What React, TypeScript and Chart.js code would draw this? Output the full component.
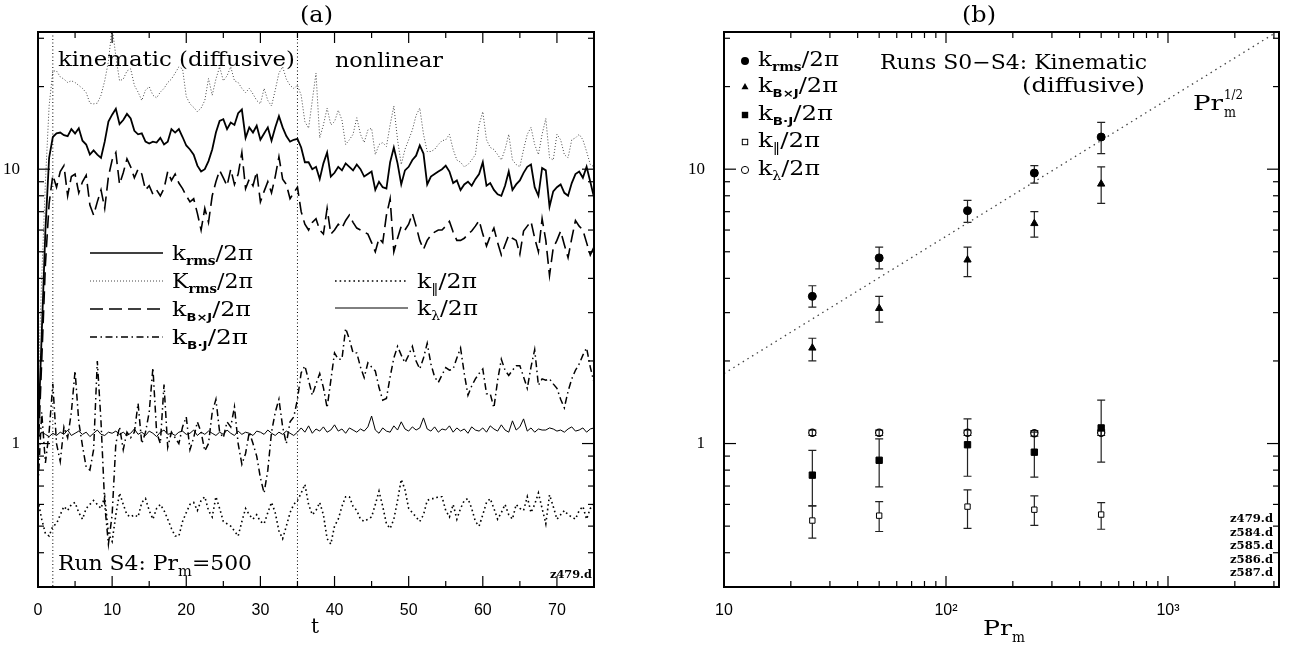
import React, { useEffect, useRef } from "react";
import { Chart, registerables } from "chart.js";

Chart.register(...registerables);

// ---------------- Panel (a): time series ----------------
const tSteps: number[] = Array.from({ length: 151 }, (_, i) => i * 0.5);
const phaseBoundaries = [2, 35];
const xTicksA = [0, 10, 20, 30, 40, 50, 60, 70];
const xMinorA = [5, 15, 25, 35, 45, 55, 65];
const yTicks = [1, 10];
const yMinor = [0.4, 0.5, 0.6, 0.7, 0.8, 0.9, 2, 3, 4, 5, 6, 7, 8, 9, 20, 30];

const kRms = [
  1.05, 2.5, 6, 11, 13.1, 13.5, 13.6, 13.3, 13.2, 14.0,
  13.5, 14.1, 12.7, 12.3, 11.3, 11.7, 11.3, 11.0, 12.6, 14.9,
  15.8, 16.6, 14.6, 15.1, 15.9, 15.3, 13.8, 13.4, 13.5, 12.6,
  12.4, 12.6, 12.5, 13.0, 12.3, 12.6, 14.0, 13.6, 14.0, 13.1,
  12.2, 11.8, 11.3, 10.3, 9.8, 10.0, 10.7, 11.8, 13.6, 15.0,
  15.2, 14.0, 14.8, 14.5, 16.0, 16.5, 13.0, 14.2, 13.6, 14.4,
  12.8, 13.5, 14.2, 12.7, 14.2, 15.6, 14.2, 13.2, 12.6, 12.8,
  12.9, 12.0, 10.6, 10.6, 10.0, 10.2, 9.2, 10.5, 11.5, 9.4,
  9.7, 10.2, 9.9, 10.5, 10.2, 9.9, 10.4, 10.0, 9.4, 9.6,
  9.8, 8.4, 9.0, 8.6, 8.5, 10.6, 12.0, 10.5, 8.8, 9.9,
  10.2, 10.8, 11.2, 12.2, 11.4, 8.8, 9.4, 9.6, 9.8, 10.0,
  10.3, 9.8, 8.9, 9.1, 8.4, 8.8, 9.0, 8.7, 9.2, 9.6,
  10.6, 8.7, 8.9, 8.4, 8.1, 8.0, 8.7, 9.8, 8.4, 8.8,
  9.1, 9.7, 10.2, 10.4, 8.6, 8.0, 10.1, 9.9, 7.3, 8.3,
  8.6, 8.8, 8.2, 8.0, 8.9, 9.6, 9.8, 9.3, 10.2, 9.0,
  7.9,
];

const bigKRms = [
  1.6, 4, 9, 17, 22.8, 22.8, 21.7, 21.3, 20.7, 21.0,
  20.7, 20.2, 19.7, 19.0, 17.4, 17.3, 17.4, 18.6, 21.0, 24.7,
  33, 25.8, 21.0, 21.3, 22.8, 23.2, 20.2, 19.1, 17.8, 19.4,
  20.0, 18.6, 18.2, 19.1, 19.7, 20.7, 21.3, 22.4, 23.6, 23.2,
  18.4, 17.3, 16.8, 16.2, 16.7, 17.8, 21.4, 18.6, 21.3, 23.6,
  21.0, 21.9, 23.6, 21.0, 20.7, 19.7, 19.0, 19.7, 18.8, 17.8,
  17.3, 19.7, 17.8, 17.0, 19.4, 22.4, 23.6, 21.3, 20.2, 19.7,
  20.2, 18.6, 14.9, 14.1, 17.8, 22.4, 13.0, 14.5, 16.7, 14.5,
  14.9, 16.4, 15.1, 12.3, 12.8, 13.4, 15.4, 13.4, 12.5, 13.9,
  14.1, 11.3, 12.3, 12.5, 12.1, 14.5, 17.0, 12.8, 10.4, 11.8,
  12.8, 13.9, 15.7, 16.7, 13.4, 11.6, 11.6, 11.8, 12.3, 12.7,
  12.8, 13.4, 11.8, 10.8, 10.6, 10.2, 10.4, 10.8, 11.3, 14.5,
  16.2, 12.8, 12.0, 11.8, 11.3, 10.8, 11.8, 13.4, 10.8, 10.4,
  10.2, 11.8, 13.4, 14.2, 12.3, 11.3, 13.4, 15.3, 11.0, 10.8,
  13.4, 12.8, 11.3, 11.0, 12.8, 13.0, 13.4, 12.8, 11.6, 10.4,
  10.2,
];

const kBxJ = [
  0.9, 2.0, 4.5, 7.5, 9.5, 8.6, 9.8, 10.3, 8.0, 9.4,
  9.6, 8.2, 9.0, 9.5, 7.4, 6.8, 7.6, 8.4, 7.2, 9.4,
  10.8, 11.5, 8.8, 9.7, 10.9, 10.2, 9.3, 10.0, 9.6, 8.4,
  8.7, 8.1, 8.4, 8.0, 8.5, 9.8, 9.1, 9.6, 8.9, 8.5,
  8.0, 7.6, 7.8, 6.9, 6.0, 7.2, 6.4, 8.0, 9.0, 9.9,
  9.3, 8.7, 10.0, 8.8, 9.6, 11.5, 8.5, 9.2, 8.7, 9.8,
  7.6, 8.3, 9.0, 8.2, 9.4, 11.1, 9.2, 8.8, 7.8, 8.2,
  8.6, 7.0, 6.3, 6.0, 6.4, 6.6, 6.0, 5.8, 7.2, 5.8,
  6.0, 6.3, 6.1, 6.5, 6.8, 6.4, 6.1, 6.0, 5.9, 5.8,
  5.4, 5.0, 5.6, 5.4, 6.8, 7.8, 5.0, 5.6, 6.2, 6.0,
  6.3, 6.9, 6.2, 5.5, 5.1, 5.5, 5.75, 5.9, 6.0, 6.0,
  6.2, 6.45, 5.9, 5.5, 5.5, 5.6, 5.8, 5.95, 6.2, 6.5,
  5.8, 5.25, 5.7, 6.1, 5.4, 4.87, 5.3, 5.75, 5.6, 5.5,
  4.9, 5.95, 6.2, 6.45, 5.6, 5.0, 6.6, 5.5, 4.1, 5.17,
  5.5, 5.95, 5.3, 4.76, 5.6, 6.5, 6.2, 6.0, 5.4, 4.87,
  5.2,
];

const kBJ = [
  0.7, 1.3, 0.85, 1.1, 1.65, 1.0, 0.86, 1.15, 1.05, 1.3,
  1.84, 1.2, 0.98, 0.82, 0.8, 0.95, 2.0, 1.2, 0.6, 0.43,
  0.55, 1.0, 1.15, 0.95, 1.1, 1.05, 1.1, 1.4, 1.0, 1.1,
  1.3, 1.89, 1.1, 1.0, 1.64, 0.97, 1.1, 1.05, 1.0, 1.15,
  1.25, 0.95, 1.05, 1.2, 1.1, 0.94, 1.0, 1.3, 1.45, 1.1,
  1.05, 1.2, 1.15, 1.36, 1.0, 0.84, 0.92, 1.1, 1.0, 0.9,
  0.75, 0.66, 0.8, 1.1, 1.3, 1.45, 1.15, 1.0, 1.2, 1.25,
  1.45, 1.81, 1.92, 1.7, 1.5, 1.65, 1.8, 1.6, 1.35, 1.7,
  2.14, 2.03, 2.03, 2.63, 2.4, 2.14, 2.14, 1.9, 1.74, 1.97,
  1.9, 1.84, 1.6, 1.44, 1.46, 1.75, 2.05, 2.26, 2.1, 1.97,
  2.1, 2.26, 2.0, 1.87, 2.05, 2.32, 1.95, 1.75, 1.67, 1.78,
  1.89, 1.85, 1.87, 2.05, 2.23, 1.8, 1.5, 1.62, 1.72, 1.8,
  1.87, 1.52, 1.52, 1.35, 1.7, 2.03, 1.85, 1.77, 1.85, 1.92,
  1.92, 1.75, 1.59, 1.9, 2.2, 1.63, 1.72, 1.7, 1.72, 1.65,
  1.59, 1.45, 1.35, 1.55, 1.72, 1.85, 1.95, 2.1, 2.23, 1.9,
  1.67,
];

const kPar = [
  0.62, 0.53, 0.47, 0.46, 0.50, 0.51, 0.55, 0.59, 0.57, 0.60,
  0.61, 0.56, 0.53, 0.58, 0.60, 0.62, 0.60, 0.58, 0.64, 0.47,
  0.44, 0.55, 0.66, 0.60, 0.55, 0.54, 0.55, 0.54, 0.61, 0.63,
  0.57, 0.53, 0.58, 0.60, 0.57, 0.53, 0.49, 0.46, 0.46, 0.52,
  0.56, 0.60, 0.61, 0.57, 0.62, 0.64, 0.57, 0.54, 0.64, 0.58,
  0.52, 0.51, 0.50, 0.48, 0.46, 0.52, 0.58, 0.55, 0.53, 0.55,
  0.52, 0.51, 0.56, 0.61, 0.56, 0.48, 0.45, 0.50, 0.56, 0.60,
  0.62, 0.66, 0.71, 0.60, 0.55, 0.57, 0.61, 0.55, 0.45, 0.43,
  0.50, 0.53, 0.59, 0.64, 0.64, 0.59, 0.57, 0.53, 0.52, 0.53,
  0.54, 0.60, 0.67, 0.59, 0.51, 0.49, 0.53, 0.62, 0.74, 0.68,
  0.58, 0.56, 0.54, 0.52, 0.55, 0.62, 0.63, 0.63, 0.64, 0.64,
  0.57, 0.54, 0.60, 0.53, 0.58, 0.62, 0.63, 0.58, 0.52, 0.50,
  0.55, 0.61, 0.63, 0.58, 0.53, 0.56, 0.60, 0.55, 0.53, 0.60,
  0.58, 0.57, 0.64, 0.56, 0.60, 0.66, 0.58, 0.51, 0.65, 0.59,
  0.53, 0.55, 0.57, 0.55, 0.54, 0.53, 0.57, 0.59, 0.53, 0.58,
  0.60,
];

const kLambda = [
  1.05, 1.10, 1.08, 1.06, 1.09, 1.07, 1.10, 1.08, 1.12, 1.07,
  1.09, 1.11, 1.08, 1.10, 1.06, 1.09, 1.12, 1.08, 1.07, 1.10,
  1.09, 1.11, 1.08, 1.10, 1.07, 1.09, 1.13, 1.08, 1.10, 1.07,
  1.11, 1.09, 1.06, 1.10, 1.12, 1.08, 1.09, 1.07, 1.10, 1.11,
  1.08, 1.09, 1.12, 1.07, 1.10, 1.08, 1.11, 1.09, 1.07, 1.10,
  1.08, 1.12, 1.09, 1.07, 1.11, 1.08, 1.10, 1.09, 1.07, 1.11,
  1.10, 1.08, 1.12, 1.09, 1.07, 1.10, 1.08, 1.11, 1.09, 1.07,
  1.10, 1.14, 1.10, 1.16, 1.09, 1.13, 1.11, 1.15, 1.10, 1.12,
  1.17, 1.11, 1.13, 1.09, 1.14, 1.12, 1.10, 1.13, 1.11, 1.15,
  1.26, 1.12, 1.09, 1.14, 1.11, 1.10, 1.16, 1.12, 1.20, 1.13,
  1.11, 1.15, 1.12, 1.14, 1.24, 1.13, 1.11, 1.15, 1.10, 1.13,
  1.12, 1.16, 1.10, 1.14, 1.11, 1.13, 1.09, 1.15, 1.12, 1.11,
  1.14, 1.10, 1.16, 1.13, 1.11, 1.17, 1.12, 1.10, 1.21, 1.12,
  1.15, 1.23, 1.11, 1.14, 1.10, 1.13, 1.12, 1.12, 1.14, 1.13,
  1.11, 1.12, 1.10, 1.13, 1.15, 1.11, 1.12, 1.14, 1.10, 1.13,
  1.14,
];

// ---------------- Panel (b): Pr_m dependence ----------------
const prm = [25, 50, 125, 250, 500];
const bKRms = [3.44, 4.75, 7.06, 9.68, 13.1];
const bKRmsLo = [3.14, 4.33, 6.4, 8.9, 11.4];
const bKRmsHi = [3.76, 5.2, 7.7, 10.3, 14.8];
const bKBxJ = [2.23, 3.11, 4.67, 6.34, 8.83];
const bKBxJLo = [2.0, 2.77, 4.06, 5.65, 7.5];
const bKBxJHi = [2.42, 3.44, 5.2, 7.0, 10.2];
const bKBJ = [0.767, 0.869, 0.99, 0.93, 1.14];
const bKBJLo = [0.593, 0.695, 0.76, 0.755, 0.855];
const bKBJHi = [0.944, 1.04, 1.23, 1.1, 1.44];
const bKPar = [0.524, 0.546, 0.589, 0.574, 0.551];
const bKParLo = [0.452, 0.478, 0.491, 0.503, 0.487];
const bKParHi = [0.593, 0.614, 0.678, 0.645, 0.609];
const bKLam = [1.095, 1.095, 1.095, 1.09, 1.095];
const bKLamLo = [1.07, 1.07, 1.07, 1.065, 1.07];
const bKLamHi = [1.12, 1.12, 1.12, 1.115, 1.12];
const fitPr = [10, 3162];
const fitK = [1.8, 32.0];
const xTicksB = [10, 100, 1000];
const xMinorB = [20, 30, 40, 50, 60, 70, 80, 90, 200, 300, 400, 500, 600, 700, 800, 900, 2000, 3000];
const runFiles = ["z479.d", "z584.d", "z585.d", "z586.d", "z587.d"];

const Y_MIN = Math.pow(10, -0.5);
const Y_MAX = Math.pow(10, 1.5);

const SERIF = '"DejaVu Serif", serif';

type Seg = [string, string, number];

function drawRich(ctx: CanvasRenderingContext2D, x: number, y: number, segs: Seg[], targetW?: number) {
  ctx.save();
  let total = 0;
  const ws = segs.map(([t, f]) => {
    ctx.font = f;
    const w = ctx.measureText(t).width;
    total += w;
    return w;
  });
  const sx = targetW ? targetW / total : 1;
  ctx.translate(x, y);
  ctx.scale(sx, 1);
  ctx.textAlign = "left";
  ctx.textBaseline = "alphabetic";
  ctx.fillStyle = "#000";
  let cx = 0;
  segs.forEach(([t, f, dy], i) => {
    ctx.font = f;
    ctx.fillText(t, cx, dy);
    cx += ws[i];
  });
  ctx.restore();
}

function drawFrame(ctx: CanvasRenderingContext2D, a: any, xs: any, ys: any,
  xMaj: number[], xMin: number[], yMaj: number[], yMin: number[]) {
  ctx.save();
  ctx.setLineDash([]);
  ctx.strokeStyle = "#000";
  ctx.lineWidth = 1.2;
  const seg = (x1: number, y1: number, x2: number, y2: number) => {
    ctx.beginPath();
    ctx.moveTo(x1, y1);
    ctx.lineTo(x2, y2);
    ctx.stroke();
  };
  const xt = (list: number[], len: number) => list.forEach((v) => {
    const p = xs.getPixelForValue(v);
    seg(p, a.bottom, p, a.bottom - len);
    seg(p, a.top, p, a.top + len);
  });
  const yt = (list: number[], len: number) => list.forEach((v) => {
    const p = ys.getPixelForValue(v);
    seg(a.left, p, a.left + len, p);
    seg(a.right, p, a.right - len, p);
  });
  xt(xMaj, 11); xt(xMin, 6); yt(yMaj, 12); yt(yMin, 6);
  ctx.lineWidth = 2;
  ctx.strokeRect(a.left, a.top, a.right - a.left, a.bottom - a.top);
  ctx.restore();
}

const DASH_KRMS: number[] = [];
const DASH_BIGK = [1, 2];
const DASH_BXJ = [13, 6];
const DASH_BJ = [7, 3.5, 1.5, 3.5];
const DASH_PAR = [1.6, 3];

function lineDs(vals: number[], color: string, width: number, dash: number[]) {
  return {
    data: tSteps.map((t, i) => ({ x: t, y: vals[i] })),
    borderColor: color,
    borderWidth: width,
    borderDash: dash,
    pointRadius: 0,
    fill: false,
    tension: 0,
  };
}

const subRms = `bold 12px ${SERIF}`;
const subBold = `bold 11px "DejaVu Sans", sans-serif`;
const main20 = `20px ${SERIF}`;

const leftDeco = {
  id: "leftDeco",
  beforeDatasetsDraw(chart: any) {
    const { ctx, chartArea: a, scales } = chart;
    ctx.save();
    ctx.strokeStyle = "#000";
    ctx.lineWidth = 1;
    ctx.setLineDash([1, 2.5]);
    phaseBoundaries.forEach((t) => {
      const px = scales.x.getPixelForValue(t);
      ctx.beginPath();
      ctx.moveTo(px, a.top);
      ctx.lineTo(px, a.bottom);
      ctx.stroke();
    });
    ctx.restore();
  },
  afterDatasetsDraw(chart: any) {
    const { ctx, chartArea: a, scales } = chart;
    drawFrame(ctx, a, scales.x, scales.y, xTicksA, xMinorA, yTicks, yMinor);
    drawRich(ctx, 300, 22, [["(a)", `22px ${SERIF}`, 0]], 33);
    drawRich(ctx, 58, 66, [["kinematic (diffusive)", main20, 0]], 237);
    drawRich(ctx, 335, 67, [["nonlinear", main20, 0]], 108);
    drawRich(ctx, 58, 570, [["Run S4: Pr", `21px ${SERIF}`, 0], ["m", `14px ${SERIF}`, 6], ["=500", `21px ${SERIF}`, 0]], 194);
    drawRich(ctx, 550, 578, [["z479.d", `bold 11px ${SERIF}`, 0]], 42);
    drawRich(ctx, 311, 633, [["t", main20, 0]]);
    // legend
    const rows: any[] = [
      { x1: 90, x2: 163, y: 253, dash: DASH_KRMS, w: 1.5, c: "#000", tx: 172, segs: [["k", main20, 0], ["rms", subRms, 5], ["/2π", main20, 0]], tw: 81 },
      { x1: 90, x2: 163, y: 281, dash: DASH_BIGK, w: 1, c: "#444", tx: 172, segs: [["K", main20, 0], ["rms", subRms, 5], ["/2π", main20, 0]], tw: 81 },
      { x1: 90, x2: 163, y: 309, dash: DASH_BXJ, w: 1.5, c: "#000", tx: 172, segs: [["k", main20, 0], ["B×J", subBold, 5], ["/2π", main20, 0]], tw: 79 },
      { x1: 90, x2: 163, y: 337, dash: DASH_BJ, w: 1.5, c: "#000", tx: 172, segs: [["k", main20, 0], ["B·J", subBold, 5], ["/2π", main20, 0]], tw: 76 },
      { x1: 335, x2: 408, y: 281, dash: DASH_PAR, w: 1.5, c: "#000", tx: 417, segs: [["k", main20, 0], ["‖", `12px ${SERIF}`, 5], ["/2π", main20, 0]], tw: 60 },
      { x1: 335, x2: 408, y: 308, dash: [], w: 1, c: "#000", tx: 417, segs: [["k", main20, 0], ["λ", `12px ${SERIF}`, 5], ["/2π", main20, 0]], tw: 61 },
    ];
    rows.forEach((r) => {
      ctx.save();
      ctx.strokeStyle = r.c;
      ctx.lineWidth = r.w;
      ctx.setLineDash(r.dash);
      ctx.beginPath();
      ctx.moveTo(r.x1, r.y);
      ctx.lineTo(r.x2, r.y);
      ctx.stroke();
      ctx.restore();
      drawRich(ctx, r.tx, r.y + 6.5, r.segs, r.tw);
    });
  },
};

function marker(ctx: CanvasRenderingContext2D, kind: string, x: number, y: number) {
  ctx.save();
  ctx.strokeStyle = "#000";
  ctx.fillStyle = "#000";
  ctx.lineWidth = 1;
  ctx.beginPath();
  if (kind === "circle") { ctx.arc(x, y, 4, 0, Math.PI * 2); ctx.fill(); }
  else if (kind === "ocircle") { ctx.arc(x, y, 3.6, 0, Math.PI * 2); ctx.stroke(); }
  else if (kind === "tri") { ctx.moveTo(x, y - 4); ctx.lineTo(x + 3.5, y + 2.2); ctx.lineTo(x - 3.5, y + 2.2); ctx.closePath(); ctx.fill(); }
  else if (kind === "sq") { ctx.fillRect(x - 3.2, y - 3.2, 6.4, 6.4); }
  else if (kind === "osq") { ctx.strokeRect(x - 2.7, y - 2.7, 5.4, 5.4); }
  ctx.restore();
}

const errorSets = [
  [bKRmsLo, bKRmsHi], [bKBxJLo, bKBxJHi], [bKBJLo, bKBJHi], [bKParLo, bKParHi], [bKLamLo, bKLamHi],
];

const rightDeco = {
  id: "rightDeco",
  beforeDatasetsDraw(chart: any) {
    const { ctx, scales } = chart;
    ctx.save();
    ctx.strokeStyle = "#222";
    ctx.lineWidth = 1.2;
    ctx.setLineDash([]);
    errorSets.forEach(([lo, hi]) => {
      prm.forEach((p, i) => {
        const px = scales.x.getPixelForValue(p);
        const y1 = scales.y.getPixelForValue(lo[i]);
        const y2 = scales.y.getPixelForValue(hi[i]);
        ctx.beginPath();
        ctx.moveTo(px, y1); ctx.lineTo(px, y2);
        ctx.moveTo(px - 4, y1); ctx.lineTo(px + 4, y1);
        ctx.moveTo(px - 4, y2); ctx.lineTo(px + 4, y2);
        ctx.stroke();
      });
    });
    ctx.restore();
  },
  afterDatasetsDraw(chart: any) {
    const { ctx, chartArea: a, scales } = chart;
    drawFrame(ctx, a, scales.x, scales.y, xTicksB, xMinorB, yTicks, yMinor);
    const ox = -640; // canvas offset
    drawRich(ctx, 962 + ox, 22, [["(b)", `22px ${SERIF}`, 0]], 34);
    drawRich(ctx, 880 + ox, 69, [["Runs S0−S4: Kinematic", main20, 0]], 267);
    drawRich(ctx, 1022 + ox, 92, [["(diffusive)", main20, 0]], 123);
    drawRich(ctx, 1193 + ox, 110, [["Pr", main20, 0]], 30);
    drawRich(ctx, 1224 + ox, 99, [["1/2", `12px ${SERIF}`, 0]], 19);
    drawRich(ctx, 1224 + ox, 117, [["m", `14px ${SERIF}`, 0]], 12);
    drawRich(ctx, 983 + ox, 635, [["Pr", main20, 0]], 29);
    drawRich(ctx, 1012 + ox, 642, [["m", `15px ${SERIF}`, 0]], 13);
    runFiles.forEach((f, i) => drawRich(ctx, 1230 + ox, 522 + i * 13.5, [[f, `bold 11px ${SERIF}`, 0]], 43));
    const leg: any[] = [
      { k: "circle", y: 61, segs: [["k", main20, 0], ["rms", subRms, 5], ["/2π", main20, 0]], tw: 81 },
      { k: "tri", y: 87, segs: [["k", main20, 0], ["B×J", subBold, 5], ["/2π", main20, 0]], tw: 80 },
      { k: "sq", y: 115, segs: [["k", main20, 0], ["B·J", subBold, 5], ["/2π", main20, 0]], tw: 75 },
      { k: "osq", y: 142, segs: [["k", main20, 0], ["‖", `12px ${SERIF}`, 5], ["/2π", main20, 0]], tw: 62 },
      { k: "ocircle", y: 170, segs: [["k", main20, 0], ["λ", `12px ${SERIF}`, 5], ["/2π", main20, 0]], tw: 62 },
    ];
    leg.forEach((r) => {
      marker(ctx, r.k, 745 + ox, r.y);
      drawRich(ctx, 758 + ox, r.y + 5, r.segs, r.tw);
    });
  },
};

function ptDs(vals: number[], style: string, radius: number, bg: string, bw: number) {
  return {
    type: "scatter",
    data: prm.map((p, i) => ({ x: p, y: vals[i] })),
    pointStyle: style,
    pointRadius: radius,
    pointBackgroundColor: bg,
    pointBorderColor: "#000",
    pointBorderWidth: bw,
    showLine: false,
  };
}

const tickFontX = { family: '"Liberation Sans", sans-serif', size: 16 };
const tickFontY = { family: '"Liberation Serif", serif', size: 17 };

export default function App() {
  const leftRef = useRef<HTMLCanvasElement>(null);
  const rightRef = useRef<HTMLCanvasElement>(null);

  useEffect(() => {
    const left = new Chart(leftRef.current as HTMLCanvasElement, {
      type: "line",
      data: {
        datasets: [
          lineDs(kRms, "#000", 1.8, DASH_KRMS),
          lineDs(kLambda, "#000", 1, []),
          lineDs(kBxJ, "#000", 1.6, DASH_BXJ),
          lineDs(kBJ, "#000", 1.5, DASH_BJ),
          lineDs(kPar, "#000", 1.6, DASH_PAR),
          lineDs(bigKRms, "#444", 1, DASH_BIGK),
        ] as any,
      },
      options: {
        animation: false,
        responsive: false,
        devicePixelRatio: 1,
        layout: { padding: { top: 32, right: 36, left: 0, bottom: 0 }, autoPadding: false } as any,
        plugins: { legend: { display: false }, tooltip: { enabled: false }, title: { display: false } },
        scales: {
          x: {
            type: "linear", min: 0, max: 75,
            afterBuildTicks: (s: any) => { s.ticks = xTicksA.map((v) => ({ value: v })); },
            afterFit: (s: any) => { s.height = 60; },
            grid: { display: false }, border: { display: false },
            ticks: { font: tickFontX, color: "#000", padding: 6, maxRotation: 0, autoSkip: false },
          },
          y: {
            type: "logarithmic", min: Y_MIN, max: Y_MAX,
            afterBuildTicks: (s: any) => { s.ticks = yTicks.map((v) => ({ value: v })); },
            afterFit: (s: any) => { s.width = 38; },
            grid: { display: false }, border: { display: false },
            ticks: { font: tickFontY, color: "#000", padding: 10, autoSkip: false, callback: (v: any) => String(v) },
          },
        },
      } as any,
      plugins: [leftDeco],
    });

    const right = new Chart(rightRef.current as HTMLCanvasElement, {
      type: "scatter",
      data: {
        datasets: [
          ptDs(bKRms, "circle", 4, "#000", 1),
          ptDs(bKBxJ, "triangle", 4.2, "#000", 1),
          ptDs(bKBJ, "rect", 4.5, "#000", 1),
          ptDs(bKPar, "rect", 3.8, "#fff", 1),
          ptDs(bKLam, "circle", 3.6, "rgba(0,0,0,0)", 1.2),
          {
            type: "line",
            data: fitPr.map((p, i) => ({ x: p, y: fitK[i] })),
            borderColor: "#444",
            borderWidth: 1.3,
            borderDash: [1.5, 4],
            pointRadius: 0,
            showLine: true,
            fill: false,
          },
        ] as any,
      },
      options: {
        animation: false,
        responsive: false,
        devicePixelRatio: 1,
        layout: { padding: { top: 32, right: 12, left: 0, bottom: 0 }, autoPadding: false } as any,
        plugins: { legend: { display: false }, tooltip: { enabled: false }, title: { display: false } },
        scales: {
          x: {
            type: "logarithmic", min: 10, max: Math.pow(10, 3.5),
            afterBuildTicks: (s: any) => { s.ticks = xTicksB.map((v) => ({ value: v })); },
            afterFit: (s: any) => { s.height = 60; },
            grid: { display: false }, border: { display: false },
            ticks: {
              font: tickFontX, color: "#000", padding: 6, maxRotation: 0, autoSkip: false,
              callback: (v: any) => (v === 10 ? "10" : v === 100 ? "10²" : "10³"),
            },
          },
          y: {
            type: "logarithmic", min: Y_MIN, max: Y_MAX,
            afterBuildTicks: (s: any) => { s.ticks = yTicks.map((v) => ({ value: v })); },
            afterFit: (s: any) => { s.width = 84; },
            grid: { display: false }, border: { display: false },
            ticks: { font: tickFontY, color: "#000", padding: 11, autoSkip: false, callback: (v: any) => String(v) },
          },
        },
      } as any,
      plugins: [rightDeco],
    });

    return () => {
      left.destroy();
      right.destroy();
    };
  }, []);

  return (
    <div style={{ position: "absolute", left: 0, top: 0, width: 1291, height: 647, background: "#fff" }}>
      <canvas ref={leftRef} width={630} height={647}
        style={{ position: "absolute", left: 0, top: 0, width: 630, height: 647 }} />
      <canvas ref={rightRef} width={651} height={647}
        style={{ position: "absolute", left: 640, top: 0, width: 651, height: 647 }} />
    </div>
  );
}
